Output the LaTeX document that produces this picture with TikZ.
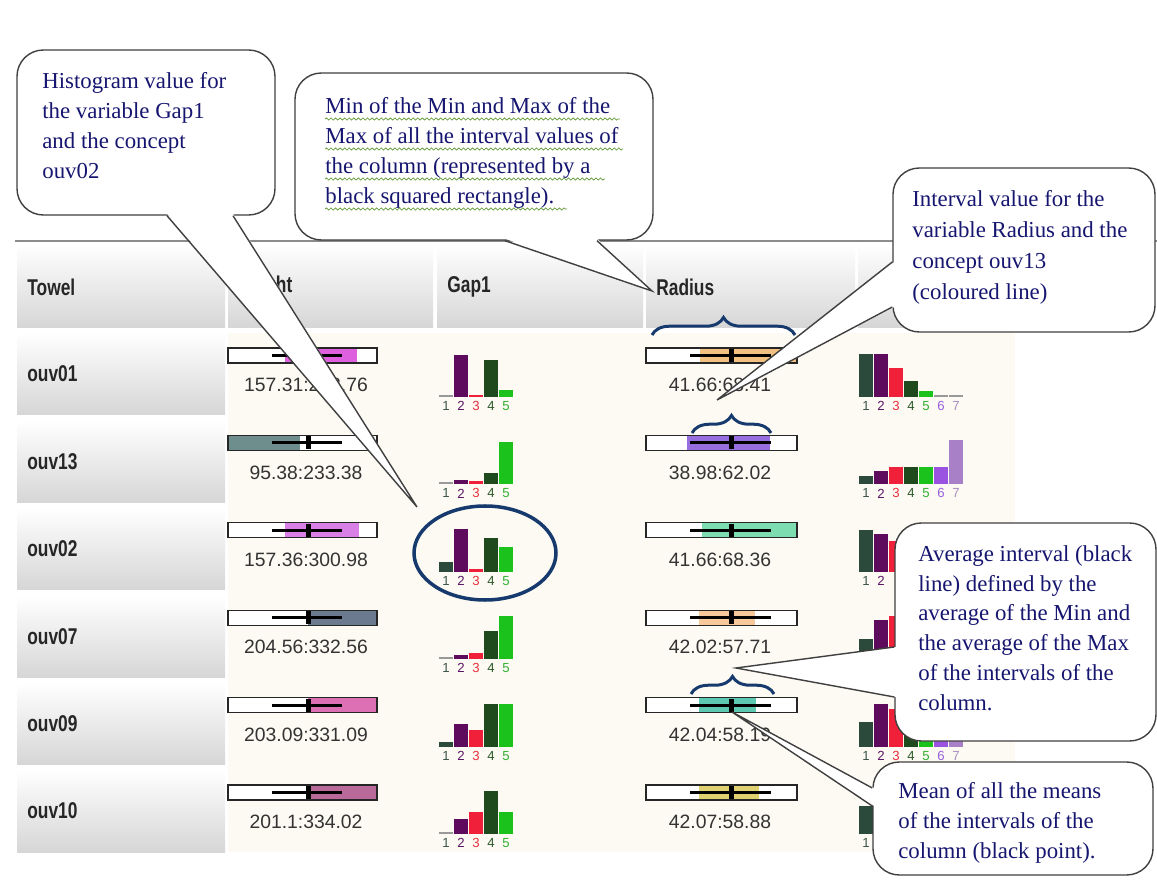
\documentclass[tikz,border=0pt]{standalone}
\usepackage{fontspec}
\setmainfont{Liberation Serif}
\newfontfamily\tabfont{Liberation Sans}
\usetikzlibrary{calc, decorations.pathreplacing, decorations.pathmorphing}
\definecolor{notetext} {RGB}{22,  22, 112}
\definecolor{marknavy} {RGB}{23,  58, 110}
\definecolor{cream}    {RGB}{252, 250, 242}
\definecolor{cellgray} {RGB}{214, 214, 214}
\definecolor{spellgrn} {RGB}{110, 160,  70}
% histogram bars
\definecolor{bar1}{RGB}{44,  74,  60}
\definecolor{bar2}{RGB}{94,  11,  94}
\definecolor{bar3}{RGB}{240, 32,  58}
\definecolor{bar4}{RGB}{30,  74,  30}
\definecolor{bar5}{RGB}{28, 194,  28}
\definecolor{bar6}{RGB}{154, 82, 224}
\definecolor{bar7}{RGB}{168,128, 200}
\definecolor{lab1}{RGB}{60,  85,  72}
\definecolor{lab2}{RGB}{90,  20, 100}
\definecolor{lab3}{RGB}{232, 48,  64}
\definecolor{lab4}{RGB}{42,  90,  42}
\definecolor{lab5}{RGB}{48, 176,  48}
\definecolor{lab6}{RGB}{154, 96, 224}
\definecolor{lab7}{RGB}{168,144, 192}
% interval fills
\definecolor{hgt1}{RGB}{222, 96, 222}
\definecolor{hgt2}{RGB}{110,142, 142}
\definecolor{hgt3}{RGB}{216,128, 230}
\definecolor{hgt4}{RGB}{107,122, 143}
\definecolor{hgt5}{RGB}{221,111, 181}
\definecolor{hgt6}{RGB}{185,106, 154}
\definecolor{rad1}{RGB}{242,192, 128}
\definecolor{rad2}{RGB}{150,110, 224}
\definecolor{rad3}{RGB}{126,221, 176}
\definecolor{rad4}{RGB}{247,200, 154}
\definecolor{rad5}{RGB}{92, 201, 176}
\definecolor{rad6}{RGB}{224,208, 112}
\newcommand{\narrowtxt}[1]{\scalebox{0.76}[1]{#1}}
\newcommand{\pxu}{0.02cm}

\begin{document}
\begin{tikzpicture}[x=0.02cm, y=-0.02cm,
  headcell/.style={top color=white, bottom color=cellgray},
  ivbox/.style={draw=black!85, line width=0.6pt},
  avgline/.style={line width=1.7pt},
  zerobar/.style={draw=gray!80, line width=1.1pt},
  tabhead/.style={font=\tabfont\bfseries\fontsize{13}{15}\selectfont, text=black!85, inner sep=0pt, anchor=west},
  tabtxt/.style={font=\tabfont\fontsize{11}{13}\selectfont, text=black!80, inner sep=0pt},
  histlbl/.style={font=\tabfont\fontsize{7.5}{8}\selectfont, inner sep=0pt},
  marker/.style={draw=marknavy, line width=1.7pt},
  bracemark/.style={marker, decorate, decoration={brace, amplitude=10pt}},
  callbox/.style={draw=black!75, line width=0.8pt, fill=white, rounded corners=15pt, inner sep=0pt},
  calltext/.style={text=notetext, align=left, inner sep=0pt, anchor=north west, font=\fontsize{13}{17}\selectfont},
  pointer/.style={draw=black!75, line width=0.8pt},
  squiggle/.style={draw=spellgrn, line width=0.45pt, decorate, decoration={snake, amplitude=0.6pt, segment length=2.6pt}}
]
  \useasboundingbox (0,0) rectangle (1157,888);
  \fill[white] (0,0) rectangle (1157,888);

  % table frame
  \draw[black!45, line width=0.8pt] (15,241) -- (1157,241);
  \fill[cream] (228,333) rectangle (1015,852);
  \foreach \xa/\xb in {17/225, 228/433, 437/643, 646/855, 858/1015}
    \shade[headcell] (\xa,244) rectangle (\xb,328);
  \node[tabhead] (hTowel)  at (27,287)  {\narrowtxt{Towel}};
  \node[tabhead] (hHeight) at (238,287) {\narrowtxt{Height}};
  \node[tabhead] (hGap)    at (447,287) {\narrowtxt{Gap1}};
  \node[tabhead] (hRadius) at (656,287) {\narrowtxt{Radius}};

  % rows: label, Height interval, Radius interval
  \foreach \nm/\hc/\ha/\hb/\hv/\rc/\ra/\rb/\rv [count=\rw from 0] in {
      ouv01/hgt1/285/357/157.31:298.76/rad1/700/797/41.66:68.41,
      ouv13/hgt2/229/300/95.38:233.38/rad2/687/770/38.98:62.02,
      ouv02/hgt3/285/359/157.36:300.98/rad3/702/797/41.66:68.36,
      ouv07/hgt4/308/376/204.56:332.56/rad4/699/755/42.02:57.71,
      ouv09/hgt5/308/376/203.09:331.09/rad5/699/756/42.04:58.19,
      ouv10/hgt6/308/376/201.1:334.02/rad6/699/759/42.07:58.88}{
    \pgfmathsetmacro\rowtop{333+87.4*\rw}
    \pgfmathsetmacro\boxtop{348+87.4*\rw}
    \pgfmathsetmacro\boxmid{355.5+87.4*\rw}
    \shade[headcell] (17,\rowtop) rectangle (225,\rowtop+82);
    \node[tabhead] (lbl\rw) at (27,\rowtop+41) {\narrowtxt{\nm}};
    % Height
    \fill[white] (228,\boxtop) rectangle (377,\boxtop+15);
    \fill[\hc] (\ha,\boxtop) rectangle (\hb,\boxtop+15);
    \draw[avgline] (272,\boxmid) -- (342,\boxmid);
    \fill (305.5,\boxmid-6.5) rectangle (310.5,\boxmid+6.5);
    \draw[ivbox] (228,\boxtop) rectangle (377,\boxtop+15);
    \node[tabtxt] (hval\rw) at (306,\boxtop+37) {\hv};
    % Radius
    \fill[white] (646,\boxtop) rectangle (797,\boxtop+15);
    \fill[\rc] (\ra,\boxtop) rectangle (\rb,\boxtop+15);
    \draw[avgline] (690,\boxmid) -- (771,\boxmid);
    \fill (728.5,\boxmid-6.5) rectangle (733.5,\boxmid+6.5);
    \draw[ivbox] (646,\boxtop) rectangle (797,\boxtop+15);
    \node[tabtxt] (rval\rw) at (720,\boxtop+37) {\rv};
  }

  % Gap1 histograms (5 classes)
  \foreach \hs [count=\rw from 0] in {{0,42,2,37,7},{0,4,3,11,42},{10,43,3,34,25},
      {0,4,6,28,43},{5,23,17,43,43},{0,15,22,43,22}}{
    \pgfmathsetmacro\hbase{397+87.4*\rw}
    \foreach \hh [count=\bn] in \hs {
      \ifnum\hh=0
        \draw[zerobar] ({439+15*(\bn-1)},\hbase-1) -- ++(14,0);
      \else
        \fill[bar\bn] ({439+15*(\bn-1)},\hbase) rectangle ++(14,-\hh);
      \fi
      \node[histlbl, text=lab\bn] (gap\rw-\bn) at ({446+15*(\bn-1)},\hbase+9) {\bn};
    }
  }

  % last column histograms (7 classes), second value = labels left uncovered
  \foreach \hs/\nv [count=\rw from 0] in {{43,43,29,16,6,0,0}/7,{8,13,17,17,17,17,44}/7,
      {42,38,31,20,12,6,3}/2,{20,39,43,25,15,8,4}/0,{25,43,38,22,14,8,6}/7,{28,20,15,10,6,4,2}/1}{
    \pgfmathsetmacro\hbase{397+87.4*\rw}
    \foreach \hh [count=\bn] in \hs {
      \ifnum\hh=0
        \draw[zerobar] ({859+15*(\bn-1)},\hbase-1) -- ++(14,0);
      \else
        \fill[bar\bn] ({859+15*(\bn-1)},\hbase) rectangle ++(14,-\hh);
      \fi
      \ifnum\bn>\nv\else
        \node[histlbl, text=lab\bn] (col\rw-\bn) at ({866+15*(\bn-1)},\hbase+9) {\bn};
      \fi
    }
  }

  % braces and the circled histogram
  \draw[bracemark] (652,335) -- (795,335);
  \draw[bracemark] (692,433) -- (771,433);
  \draw[bracemark] (691,694) -- (774,694);
  \draw[marker, line width=2pt] (485,553) ellipse (71 and 47);

  % callout: histogram value
  \coordinate (pHist) at (417,507);
  \node[callbox, minimum width=258*\pxu, minimum height=165*\pxu] (cHist) at (146,132.5) {};
  \fill[white] ($(cHist.south)+(21,-2)$) -- (pHist) -- ($(cHist.south)+(87,-2)$) -- cycle;
  \draw[pointer] ($(cHist.south)+(21,0)$) -- (pHist) -- ($(cHist.south)+(87,0)$);
  \node[calltext] (tHist) at (42,72) {Histogram value for\\the variable Gap1\\and the concept\\ouv02};

  % callout: min of min / max of max
  \coordinate (pMinMax) at (652,291);
  \node[callbox, minimum width=358*\pxu, minimum height=167*\pxu] (cMinMax) at (474,156.5) {};
  \fill[white] ($(cMinMax.south)+(31,-2)$) -- (pMinMax) -- ($(cMinMax.south)+(123,-2)$) -- cycle;
  \draw[pointer] ($(cMinMax.south)+(31,0)$) -- (pMinMax) -- ($(cMinMax.south)+(123,0)$);
  \node[calltext] (tMinMax) at (325,97) {Min of the Min and Max of the\\Max of all the interval values of\\the column (represented by a\\black squared rectangle).};
  \foreach \sy/\sx in {119/620, 149/623, 179/605, 209/567}
    \draw[squiggle] (325,\sy) -- (\sx,\sy);

  % callout: interval value
  \coordinate (pInterval) at (717,400);
  \node[callbox, minimum width=262*\pxu, minimum height=164*\pxu] (cInterval) at (1024,250) {};
  \fill[white] ($(cInterval.west)+(2,12)$) -- (pInterval) -- ($(cInterval.west)+(2,57)$) -- cycle;
  \draw[pointer] ($(cInterval.west)+(0,12)$) -- (pInterval) -- ($(cInterval.west)+(0,57)$);
  \node[calltext, font=\fontsize{13}{17.6}\selectfont] (tInterval) at (912,190) {Interval value for the\\variable Radius and the\\concept ouv13\\(coloured line)};

  % callout: average interval
  \coordinate (pAverage) at (736,668);
  \node[callbox, minimum width=261*\pxu, minimum height=218*\pxu] (cAverage) at (1025.5,632) {};
  \fill[white] ($(cAverage.west)+(2,15)$) -- (pAverage) -- ($(cAverage.west)+(2,65)$) -- cycle;
  \draw[pointer] ($(cAverage.west)+(0,15)$) -- (pAverage) -- ($(cAverage.west)+(0,65)$);
  \node[calltext] (tAverage) at (918,545) {Average interval (black\\line) defined by the\\average of the Min and\\the average of the Max\\of the intervals of the\\column.};

  % callout: mean of the means
  \coordinate (pMean) at (732,712);
  \node[callbox, minimum width=280*\pxu, minimum height=113*\pxu] (cMean) at (1013,818.5) {};
  \fill[white] ($(cMean.west)+(2,-30.5)$) -- (pMean) -- ($(cMean.west)+(2,-12.5)$) -- cycle;
  \draw[pointer] ($(cMean.west)+(0,-30.5)$) -- (pMean) -- ($(cMean.west)+(0,-12.5)$);
  \node[calltext] (tMean) at (898,782) {Mean of all the means\\of the intervals of the\\column (black point).};
\end{tikzpicture}
\end{document}
